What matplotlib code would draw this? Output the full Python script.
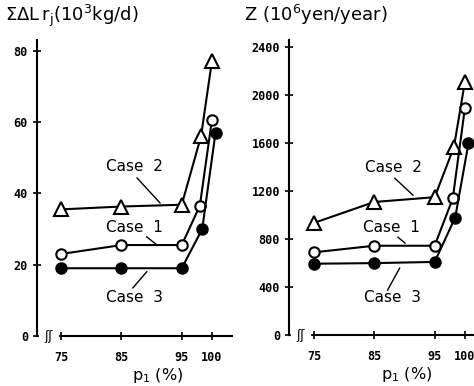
import matplotlib.pyplot as plt

# ----------------- DATOS -----------------
p1_case1 = [75, 85, 95, 98.0, 100]
p1_case2 = [75, 85, 95, 98.2, 100]
p1_case3 = [75, 85, 95, 98.4, 100.6]

lr_case1 = [23, 25.5, 25.5, 36.5, 60.5]
lr_case2 = [35.5, 36.3, 36.8, 56, 77]
lr_case3 = [19, 19, 19, 30, 57]

z_case1 = [690, 745, 745, 1140, 1890]
z_case2 = [935, 1110, 1150, 1570, 2110]
z_case3 = [595, 600, 610, 980, 1600]

xticks = [75, 85, 95, 100]
yticks_left = [0, 20, 40, 60, 80]
yticks_right = [0, 400, 800, 1200, 1600, 2000, 2400]

fig = plt.figure(figsize=(4.74, 3.86), dpi=100)
ax1 = fig.add_axes([0.078, 0.1295, 0.411, 0.767])
ax2 = fig.add_axes([0.610, 0.132, 0.40, 0.764])


def dibujar(ax, z1, z2, z3, ylim, yticks):
    kw = dict(color='black', lw=1.5, mew=1.5, clip_on=False)
    ax.plot(p1_case2, z2, marker='^', mfc='white', ms=10, **kw)
    ax.plot(p1_case1, z1, marker='o', mfc='white', ms=7.5, **kw)
    ax.plot(p1_case3, z3, marker='o', mfc='black', ms=7.5, **kw)
    ax.set_ylim(*ylim)
    ax.set_yticks(yticks)
    ax.set_xticks(xticks)
    ax.spines['top'].set_visible(False)
    ax.spines['right'].set_visible(False)
    ax.spines['left'].set_linewidth(1.5)
    ax.spines['bottom'].set_linewidth(1.5)
    ax.tick_params(direction='inout', length=6, width=1.2, labelsize=8.5)
    for lab in ax.get_xticklabels() + ax.get_yticklabels():
        lab.set_fontweight('bold')
        lab.set_fontfamily('DejaVu Sans Mono')
    ax.tick_params(axis='x', pad=8)
    ax.set_xlabel(r'p$_1$ (%)', fontsize=11.5, labelpad=2)
    ax.xaxis.set_label_coords(0.62, -0.1)
    # marca de corte del eje
    ax.text(0.06, 0.0, 'ʃʃ', transform=ax.transAxes, fontsize=9,
            ha='center', va='center', backgroundcolor='white')


dibujar(ax1, lr_case1, lr_case2, lr_case3, (0, 83), yticks_left)
ax1.set_xlim(71, 103.3)
dibujar(ax2, z_case1, z_case2, z_case3, (0, 2460), yticks_right)
ax2.set_xlim(70.9, 102.3)

# etiquetas de casos (izquierda)
ax1.text(87.2, 47.4, 'Case  2', fontsize=11, ha='center', va='center')
ax1.plot([87.6, 91.4], [44.3, 37.3], color='black', lw=1)
ax1.text(87.1, 30.3, 'Case  1', fontsize=11, ha='center', va='center')
ax1.plot([89.2, 90.9], [27.8, 25.5], color='black', lw=1)
ax1.text(87.2, 10.7, 'Case  3', fontsize=11, ha='center', va='center')
ax1.plot([86.9, 89.2], [13.5, 18.0], color='black', lw=1)

# etiquetas de casos (derecha)
ax2.text(88.1, 1400, 'Case  2', fontsize=11, ha='center', va='center')
ax2.plot([88.4, 91.4], [1308, 1167], color='black', lw=1)
ax2.text(87.9, 900, 'Case  1', fontsize=11, ha='center', va='center')
ax2.plot([88.9, 90.1], [817, 767], color='black', lw=1)
ax2.text(88.1, 317, 'Case  3', fontsize=11, ha='center', va='center')
ax2.plot([87.2, 89.2], [375, 558], color='black', lw=1)

fig.text(0.010, 0.96, r'$\Sigma\Delta$L$\,$r$_{\rm j}$(10$^3$kg/d)', fontsize=13, va='center')
fig.text(0.515, 0.96, r'Z (10$^6$yen/year)', fontsize=13, va='center')

fig.savefig('out.png', dpi=100)
